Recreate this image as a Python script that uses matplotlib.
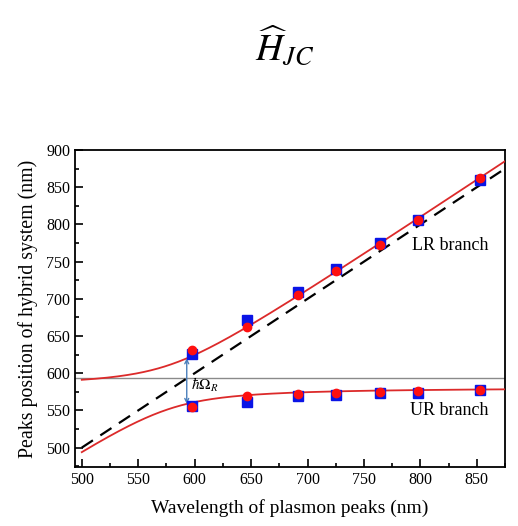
import matplotlib
matplotlib.use('Agg')
import matplotlib.pyplot as plt
import numpy as np
from matplotlib.ticker import MultipleLocator

plt.rcParams['font.family'] = 'Liberation Serif'
plt.rcParams['mathtext.fontset'] = 'stix'

# plasmon peak wavelengths of the measured samples (nm)
plasmon = [598, 646, 692, 725, 764, 798, 853]
# hybrid peaks, experiment (squares) and simulation (circles)
lr_exp = [626, 671, 709, 740, 775, 806, 860]
lr_sim = [631, 662, 705, 737, 773, 806, 862]
ur_exp = [556, 562, 569, 571, 574, 574, 577]
ur_sim = [555, 569, 572, 574, 575, 576, 578]

exciton_line = 593      # exciton wavelength marker (nm)
fit_exciton = 2.128     # coupled-oscillator exciton energy (eV)
fit_g = 0.108           # coupling strength (eV)

# coupled oscillator dispersion
lam = np.linspace(500, 875, 400)
ep = 1240.0 / lam
mean = (ep + fit_exciton) / 2
half = np.sqrt(fit_g ** 2 + ((ep - fit_exciton) / 2) ** 2)
lower_fit = 1240.0 / (mean + half)
upper_fit = 1240.0 / (mean - half)

fig = plt.figure(figsize=(5.18, 5.26), dpi=100)
ax = fig.add_axes([0.1448, 0.1122, 0.8302, 0.6026])

ax.axhline(exciton_line, color='#8a8a8a', lw=1.0, zorder=1)
ax.plot([500, 875], [500, 875], color='black', ls=(0, (6, 4)), lw=1.6, zorder=2)
ax.plot(lam, upper_fit, color='#dc2a2a', lw=1.3, zorder=3)
ax.plot(lam, lower_fit, color='#dc2a2a', lw=1.3, zorder=3)

ax.plot(plasmon, lr_exp, 's', color='#0a14e6', ms=7.5, zorder=4)
ax.plot(plasmon, ur_exp, 's', color='#0a14e6', ms=7.5, zorder=4)
ax.plot(plasmon, lr_sim, 'o', color='#ff1010', ms=6, zorder=5)
ax.plot(plasmon, ur_sim, 'o', color='#ff1010', ms=6, zorder=5)

# Rabi splitting arrow
i = np.argmin(np.abs(lam - exciton_line))
ax.annotate('', xy=(exciton_line, lower_fit[i]), xytext=(exciton_line, upper_fit[i]),
            arrowprops=dict(arrowstyle='<->', color='#4a7ebb', lw=1.0,
                            shrinkA=0, shrinkB=0, mutation_scale=7))
ax.text(597, 584, r'$\hbar\Omega_R$', fontsize=11, va='center', ha='left')

ax.text(860, 772, 'LR branch', fontsize=13, ha='right', va='center')
ax.text(860, 550, 'UR branch', fontsize=13, ha='right', va='center')

ax.set_xlim(494, 875)
ax.set_ylim(474, 900)
ax.xaxis.set_major_locator(MultipleLocator(50))
ax.xaxis.set_minor_locator(MultipleLocator(25))
ax.yaxis.set_major_locator(MultipleLocator(50))
ax.yaxis.set_minor_locator(MultipleLocator(25))
ax.tick_params(which='both', direction='in', labelsize=11.5, width=1.2)
ax.tick_params(which='major', length=6)
ax.tick_params(which='minor', length=3)
for s in ax.spines.values():
    s.set_linewidth(1.3)

ax.set_xlabel('Wavelength of plasmon peaks (nm)', fontsize=14, labelpad=8)
ax.set_ylabel('Peaks position of hybrid system (nm)', fontsize=14.3, labelpad=6)

fig.text(0.55, 0.91, r'$\widehat{H}_{JC}$', fontsize=27, ha='center', va='center')

fig.savefig('out.png', dpi=100)
